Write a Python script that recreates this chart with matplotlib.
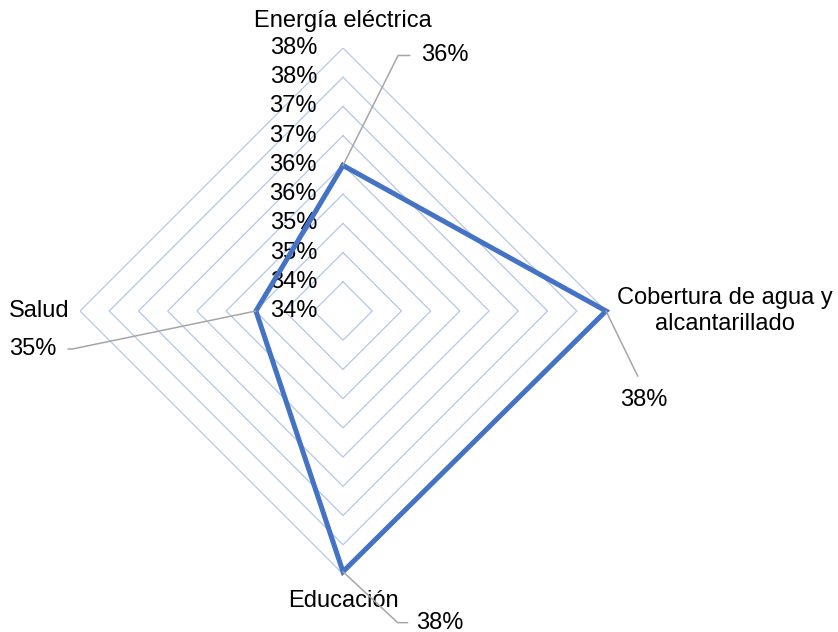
import numpy as np
import matplotlib
matplotlib.use("Agg")
import matplotlib.pyplot as plt

plt.rcParams['font.family'] = ['Liberation Sans', 'DejaVu Sans']

# Data
categories = ["Energía eléctrica", "Cobertura de agua y\nalcantarillado", "Educación", "Salud"]
values = [0.3624, 0.3825, 0.3821, 0.3524]
r_ticks = [0.3375, 0.3425, 0.3475, 0.3525, 0.3575, 0.3625, 0.3675, 0.3725, 0.3775, 0.3825]

series_color = "#4472C4"
grid_color = "#B4C7E7"
leader_color = "#A6A6A6"
fs = 17

fig = plt.figure(figsize=(8.38, 6.32), dpi=100)
ax = fig.add_axes([80 / 838, 58 / 632, 526 / 838, 526 / 632], projection="polar")
ax.set_theta_offset(np.pi / 2)
ax.set_theta_direction(-1)
ax.set_ylim(r_ticks[0], r_ticks[-1])
ax.grid(False)
ax.spines["polar"].set_visible(False)
ax.set_xticks([])
ax.set_yticks([])
ax.patch.set_visible(False)

angles = [i * 2 * np.pi / len(categories) for i in range(len(categories))]
closed = angles + angles[:1]

# Diamond grid rings
for t in r_ticks[1:]:
    ax.plot(closed, [t] * len(closed), color=grid_color, lw=0.9, zorder=1)

# Radial tick labels along the upper axis
for t in r_ticks:
    ax.annotate(f"{t:.0%}", xy=(0, t), xytext=(-26, 0), textcoords="offset pixels",
                ha="right", va="center", fontsize=fs, color="black", zorder=3)

# Series
ax.plot(closed, values + values[:1], color=series_color, lw=3.6, zorder=4,
        solid_joinstyle="miter", clip_on=False)

# Category labels
rmax = r_ticks[-1]
cat_offsets = [((0, 27), "center", "center"),
               ((11, 0), "left", "center"),
               ((0, -27), "center", "center"),
               ((-10, 0), "right", "center")]
for ang, name, (off, ha, va) in zip(angles, categories, cat_offsets):
    ax.annotate(name, xy=(ang, rmax), xytext=off, textcoords="offset pixels",
                ha=ha, va=va, fontsize=fs, multialignment="center",
                annotation_clip=False)

# Data labels with leader lines
label_specs = [
    ((78, 110), "left", (0, 0.5), "angle,angleA=0,angleB=63.4,rad=0", 6),
    ((38, -89), "center", (0.5, 1.0), "arc3,rad=0", 8),
    ((73, -51), "left", (0, 0.5), "angle,angleA=0,angleB=-43,rad=0", 4),
    ((-199, -38), "right", (1, 0.5), "angle,angleA=0,angleB=11.7,rad=0", 6),
]
for ang, v, (off, ha, relpos, cs, shr) in zip(angles, values, label_specs):
    ax.annotate(f"{v:.0%}", xy=(ang, v), xytext=off, textcoords="offset pixels",
                ha=ha, va="center", fontsize=fs, annotation_clip=False, zorder=5,
                arrowprops=dict(arrowstyle="-", color=leader_color, lw=1.1,
                                connectionstyle=cs, relpos=relpos,
                                shrinkA=shr, shrinkB=0))

fig.savefig("out.png", dpi=100)
